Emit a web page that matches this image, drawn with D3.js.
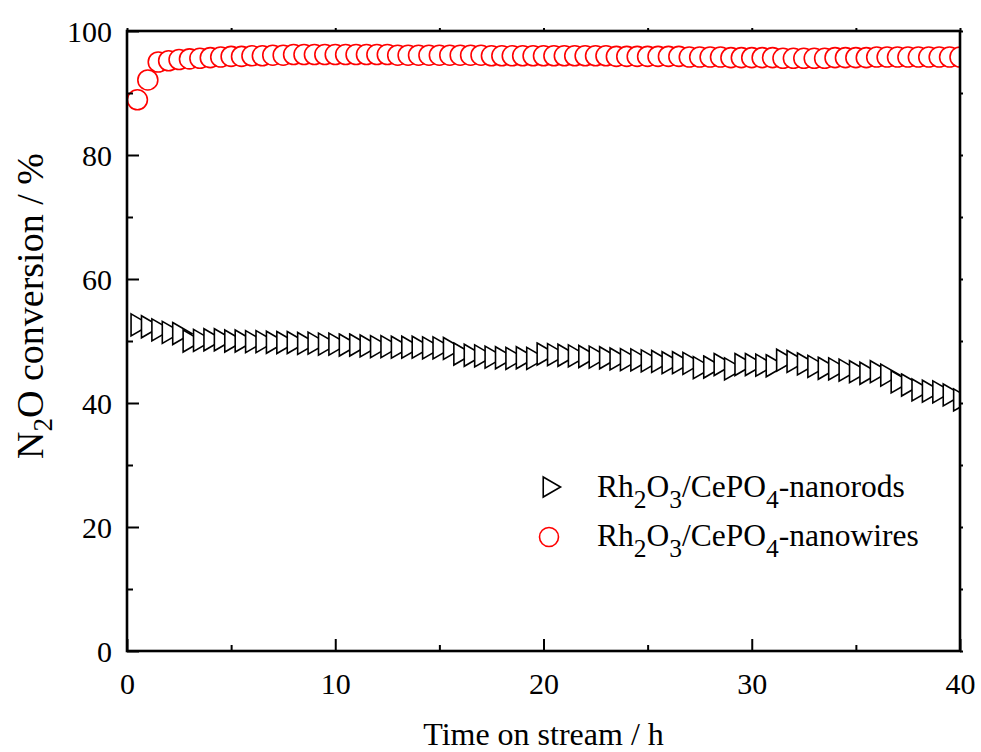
<!DOCTYPE html>
<html>
<head>
<meta charset="utf-8">
<script src="https://cdn.jsdelivr.net/npm/d3@7"></script>
<style>
  html, body { margin: 0; padding: 0; background: #fff; }
  svg { display: block; }
  text { font-family: "Liberation Serif", "Times New Roman", serif; fill: #000; }
</style>
</head>
<body>
<svg id="chart" width="981" height="752"></svg>
<script>
// Time on stream (h), sampled every half hour
const times = [
  0.5, 1, 1.5, 2, 2.5, 3, 3.5, 4, 4.5, 5,
  5.5, 6, 6.5, 7, 7.5, 8, 8.5, 9, 9.5, 10,
  10.5, 11, 11.5, 12, 12.5, 13, 13.5, 14, 14.5, 15,
  15.5, 16, 16.5, 17, 17.5, 18, 18.5, 19, 19.5, 20,
  20.5, 21, 21.5, 22, 22.5, 23, 23.5, 24, 24.5, 25,
  25.5, 26, 26.5, 27, 27.5, 28, 28.5, 29, 29.5, 30,
  30.5, 31, 31.5, 32, 32.5, 33, 33.5, 34, 34.5, 35,
  35.5, 36, 36.5, 37, 37.5, 38, 38.5, 39, 39.5, 40
];

// N2O conversion (%) over Rh2O3/CePO4-nanorods
const nanorods = [
  52.6, 52.3, 51.8, 51.4, 51.2, 50.0, 50.1, 50.2, 50.2, 50.0,
  50.0, 49.9, 49.9, 49.8, 49.75, 49.75, 49.6, 49.65, 49.5, 49.5,
  49.35, 49.35, 49.2, 49.1, 49.1, 49.0, 49.0, 49.0, 48.9, 48.9,
  48.8, 47.9, 47.7, 47.6, 47.4, 47.3, 47.2, 47.3, 47.2, 47.9,
  47.8, 47.7, 47.6, 47.5, 47.4, 47.3, 47.1, 47.0, 46.95, 46.8,
  46.7, 46.5, 46.5, 46.4, 45.7, 45.8, 46.2, 45.5, 46.2, 46.2,
  46.1, 46.0, 46.9, 46.7, 46.3, 45.9, 45.6, 45.5, 45.3, 45.05,
  44.8, 45.05, 44.5, 43.4, 42.9, 42.1, 41.9, 41.8, 41.3, 40.5
];

// N2O conversion (%) over Rh2O3/CePO4-nanowires
const nanowires = [
  88.9, 92.1, 95.0, 95.2, 95.4, 95.5, 95.6, 95.7, 95.8, 95.9,
  95.9, 96.0, 96.0, 96.1, 96.1, 96.2, 96.2, 96.2, 96.2, 96.2,
  96.2, 96.2, 96.2, 96.2, 96.2, 96.1, 96.1, 96.1, 96.1, 96.1,
  96.1, 96.1, 96.1, 96.1, 96.0, 96.0, 96.0, 96.0, 96.0, 96.0,
  96.0, 96.0, 96.0, 96.0, 96.0, 96.0, 95.9, 95.9, 95.9, 95.9,
  95.9, 95.9, 95.9, 95.8, 95.8, 95.8, 95.8, 95.7, 95.7, 95.7,
  95.7, 95.7, 95.6, 95.6, 95.6, 95.6, 95.6, 95.7, 95.7, 95.7,
  95.7, 95.8, 95.8, 95.8, 95.8, 95.8, 95.8, 95.8, 95.8, 95.8
];

const xMajorTicks = [0, 10, 20, 30, 40];
const xMinorTicks = [5, 15, 25, 35];
const yMajorTicks = [0, 20, 40, 60, 80, 100];
const yMinorTicks = [10, 30, 50, 70, 90];

const svg = d3.select("#chart");
const plotLeft = 127, plotRight = 960, plotTop = 31, plotBottom = 651;

const x = d3.scaleLinear().domain([0, 40]).range([plotLeft, plotRight]);
const y = d3.scaleLinear().domain([0, 100]).range([plotBottom, plotTop]);

// clip markers to the plotting frame
svg.append("defs").append("clipPath").attr("id", "plotClip")
  .append("rect")
  .attr("x", plotLeft).attr("y", plotTop)
  .attr("width", plotRight - plotLeft).attr("height", plotBottom - plotTop);

// right-pointing open triangle, centred on its centroid
function triPath(s) {
  const w = s * 0.866;
  return `M${-w / 3},${-s / 2}L${2 * w / 3},0L${-w / 3},${s / 2}Z`;
}

const plot = svg.append("g").attr("clip-path", "url(#plotClip)");

plot.append("g").selectAll("path")
  .data(times.map((t, i) => ({ t, v: nanorods[i] })))
  .join("path")
  .attr("d", triPath(22))
  .attr("transform", d => `translate(${x(d.t)},${y(d.v)})`)
  .attr("fill", "#fff")
  .attr("stroke", "#000")
  .attr("stroke-width", 1.6);

plot.append("g").selectAll("circle")
  .data(times.map((t, i) => ({ t, v: nanowires[i] })))
  .join("circle")
  .attr("cx", d => x(d.t))
  .attr("cy", d => y(d.v))
  .attr("r", 10)
  .attr("fill", "#fff")
  .attr("stroke", "#ff0000")
  .attr("stroke-width", 1.6);

// axes: bottom and left with labels, inward ticks
const axisW = 2.6;
const majorLen = 12, minorLen = 6;

const xBottom = svg.append("g").attr("transform", `translate(0,${plotBottom})`)
  .call(d3.axisBottom(x).tickValues(xMajorTicks).tickSize(-majorLen).tickPadding(22).tickFormat(d3.format("d")));
const xBottomMinor = svg.append("g").attr("transform", `translate(0,${plotBottom})`)
  .call(d3.axisBottom(x).tickValues(xMinorTicks).tickSize(-minorLen).tickFormat(""));
const yLeft = svg.append("g").attr("transform", `translate(${plotLeft},0)`)
  .call(d3.axisLeft(y).tickValues(yMajorTicks).tickSize(-majorLen).tickPadding(15).tickFormat(d3.format("d")));
const yLeftMinor = svg.append("g").attr("transform", `translate(${plotLeft},0)`)
  .call(d3.axisLeft(y).tickValues(yMinorTicks).tickSize(-minorLen).tickFormat(""));

// top and right: short outward ticks, no labels
const xTop = svg.append("g").attr("transform", `translate(0,${plotTop})`)
  .call(d3.axisTop(x).tickValues(xMajorTicks.concat(xMinorTicks)).tickSize(3).tickFormat(""));
const yRight = svg.append("g").attr("transform", `translate(${plotRight},0)`)
  .call(d3.axisRight(y).tickValues(yMajorTicks.concat(yMinorTicks)).tickSize(3).tickFormat(""));

[xBottom, xBottomMinor, yLeft, yLeftMinor, xTop, yRight].forEach(g => {
  g.select(".domain").remove();
  g.selectAll(".tick line").attr("stroke", "#000").attr("stroke-width", 2);
  g.selectAll(".tick text")
    .attr("font-family", "Liberation Serif, Times New Roman, serif")
    .attr("font-size", 30)
    .attr("fill", "#000");
});
yLeft.selectAll(".tick text").attr("dy", "0.34em");
xBottom.selectAll(".tick text").attr("dy", "0.71em");

// frame
svg.append("rect")
  .attr("x", plotLeft).attr("y", plotTop)
  .attr("width", plotRight - plotLeft).attr("height", plotBottom - plotTop)
  .attr("fill", "none").attr("stroke", "#000").attr("stroke-width", axisW);

// axis titles
svg.append("text")
  .attr("x", (plotLeft + plotRight) / 2).attr("y", 745)
  .attr("text-anchor", "middle")
  .attr("font-size", 32)
  .text("Time on stream / h");

const yTitle = svg.append("text")
  .attr("transform", "translate(43,459) rotate(-90)")
  .attr("text-anchor", "start")
  .attr("font-size", 38);
yTitle.append("tspan").text("N");
yTitle.append("tspan").attr("font-size", 27).attr("dy", 9).text("2");
yTitle.append("tspan").attr("dy", -9).text("O conversion / %");

// legend
function legendLabel(g, yPos, suffix) {
  const t = g.append("text").attr("x", 597).attr("y", yPos).attr("font-size", 31.5);
  t.append("tspan").text("Rh");
  t.append("tspan").attr("font-size", 25.5).attr("dy", 11).text("2");
  t.append("tspan").attr("dy", -11).text("O");
  t.append("tspan").attr("font-size", 25.5).attr("dy", 11).text("3");
  t.append("tspan").attr("dy", -11).text("/CePO");
  t.append("tspan").attr("font-size", 25.5).attr("dy", 11).text("4");
  t.append("tspan").attr("dy", -11).text(suffix);
}

const legend = svg.append("g");
legend.append("path")
  .attr("d", triPath(20))
  .attr("transform", "translate(549,487)")
  .attr("fill", "#fff").attr("stroke", "#000").attr("stroke-width", 1.6);
legendLabel(legend, 497, "-nanorods");

legend.append("circle")
  .attr("cx", 549).attr("cy", 537).attr("r", 9.5)
  .attr("fill", "#fff").attr("stroke", "#ff0000").attr("stroke-width", 1.6);
legendLabel(legend, 546, "-nanowires");
</script>
</body>
</html>
